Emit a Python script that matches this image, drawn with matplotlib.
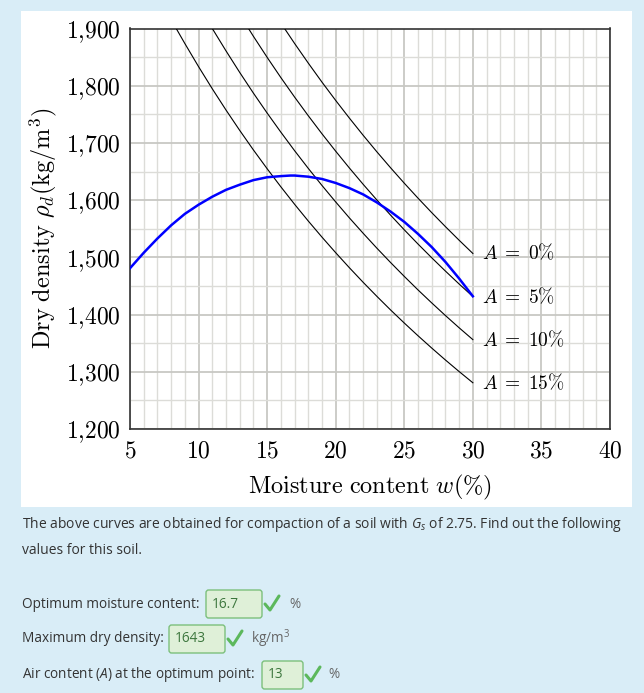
import matplotlib
matplotlib.use('Agg')
import matplotlib.pyplot as plt
from matplotlib.patches import Rectangle, FancyBboxPatch
from matplotlib.lines import Line2D
from matplotlib.ticker import MultipleLocator, FuncFormatter

# ---------------- data ----------------
w_curve = [5, 6, 7, 8, 9, 10, 11, 12, 13, 14, 15, 16, 16.7, 17, 18, 19, 20,
           21, 22, 23, 24, 25, 26, 27, 28, 29, 30]
rho_curve = [1481, 1508, 1533, 1556, 1576, 1592, 1606, 1618, 1627, 1635, 1640,
             1642, 1643, 1643, 1641, 1637, 1630, 1621, 1610, 1596, 1580, 1562,
             1541, 1518, 1492, 1463, 1432]

w_a0 = [16.27, 17, 18, 19, 20, 21, 22, 23, 24, 25, 26, 27, 28, 29, 30]
rho_a0 = [1900, 1873.9, 1839.5, 1806.2, 1774.2, 1743.3, 1713.4, 1684.5, 1656.6,
          1629.6, 1603.5, 1578.2, 1553.7, 1529.9, 1506.8]

w_a5 = [13.64, 14, 15, 16, 17, 18, 19, 20, 21, 22, 23, 24, 25, 26, 27, 28, 29, 30]
rho_a5 = [1900, 1886.3, 1849.6, 1814.2, 1780.2, 1747.5, 1715.9, 1685.5, 1656.1,
          1627.7, 1600.3, 1573.8, 1548.1, 1523.3, 1499.3, 1476.0, 1453.4, 1431.5]

w_a10 = [11.0, 12, 13, 14, 15, 16, 17, 18, 19, 20, 21, 22, 23, 24, 25, 26, 27,
         28, 29, 30]
rho_a10 = [1900, 1860.9, 1823.2, 1787.0, 1752.2, 1718.8, 1686.5, 1655.5, 1625.6,
           1596.8, 1568.9, 1542.1, 1516.1, 1491.0, 1466.7, 1443.1, 1420.4,
           1398.3, 1376.9, 1356.2]

w_a15 = [8.37, 9, 10, 11, 12, 13, 14, 15, 16, 17, 18, 19, 20, 21, 22, 23, 24,
         25, 26, 27, 28, 29, 30]
rho_a15 = [1900, 1873.7, 1833.3, 1794.6, 1757.5, 1721.9, 1687.7, 1654.9, 1623.3,
           1592.8, 1563.5, 1535.3, 1508.1, 1481.8, 1456.4, 1431.9, 1408.1,
           1385.2, 1363.0, 1341.5, 1320.6, 1300.4, 1280.8]

air_labels = ['0', '5', '10', '15']

question = "The above curves are obtained for compaction of a soil with $G_s$ of 2.75. Find out the following"
question2 = "values for this soil."
answers = ['16.7', '1643', '13']

# ---------------- figure ----------------
plt.rcParams['mathtext.fontset'] = 'cm'
plt.rcParams['mathtext.rm'] = 'Open Sans'
plt.rcParams['mathtext.it'] = 'Open Sans:italic'
plt.rcParams['axes.unicode_minus'] = False

W, H = 644, 693
fig = plt.figure(figsize=(W / 100, H / 100), dpi=100)
fig.patch.set_facecolor('#d9edf7')

def fx(x):
    return x / W

def fy(y):
    return 1 - y / H

fig.patches.append(Rectangle((fx(21), fy(507)), (632 - 21) / W, (507 - 11) / H,
                             transform=fig.transFigure, facecolor='white',
                             edgecolor='none', zorder=-5))

ax = fig.add_axes([fx(130), fy(429), 480 / W, (429 - 28.5) / H])
ax.set_zorder(1)
ax.set_xlim(5, 40)
ax.set_ylim(1200, 1900)
ax.xaxis.set_major_locator(MultipleLocator(5))
ax.xaxis.set_minor_locator(MultipleLocator(1))
ax.yaxis.set_major_locator(MultipleLocator(100))
ax.yaxis.set_minor_locator(MultipleLocator(50))
ax.grid(which='minor', color='#dcdcd8', lw=1.0)
ax.grid(which='major', color='#c8c8c4', lw=1.3)
ax.set_axisbelow(True)
ax.tick_params(which='both', length=0)
ax.tick_params(axis='x', pad=7, labelsize=17)
ax.tick_params(axis='y', pad=7, labelsize=17)
ax.xaxis.set_major_formatter(FuncFormatter(lambda v, p: r'$%d$' % int(round(v))))
ax.yaxis.set_major_formatter(FuncFormatter(
    lambda v, p: r'$%d{,}%03d$' % (int(round(v)) // 1000, int(round(v)) % 1000)))
for s in ax.spines.values():
    s.set_color('#333333')
    s.set_linewidth(1.2)

ax.set_xlabel(r'$\mathrm{Moisture\ content}\ w(\%)$', fontsize=17.5)
ax.set_ylabel(r'$\mathrm{Dry\ density}\ \rho_d(\mathrm{kg/m}^3)$', fontsize=17.5)
ax.xaxis.set_label_coords(0.5, -0.145)
ax.xaxis.label.set_va('center')
ax.yaxis.set_label_coords(-0.181, 0.5)
ax.yaxis.label.set_va('center')

lines = [(w_a0, rho_a0), (w_a5, rho_a5), (w_a10, rho_a10), (w_a15, rho_a15)]
for (wv, rv), lab in zip(lines, air_labels):
    ax.plot(wv, rv, color='black', lw=0.8, zorder=3)
    ax.text(wv[-1] + 0.7, rv[-1], r'$A\;=\;%s\%%$' % lab, fontsize=14,
            ha='left', va='center', zorder=4)

ax.plot(w_curve, rho_curve, color='#0000ff', lw=1.8, zorder=5)

# ---------------- question text ----------------
fp = dict(family='Open Sans', color='#333333', fontsize=9.8, math_fontfamily='custom')
fq = dict(fp, fontsize=10)
fig.text(fx(22), fy(525), question, ha='left', va='center', **fq)
fig.text(fx(22), fy(550), question2, ha='left', va='center', **fq)

rows = [
    ("Optimum moisture content:", 604, 206, 262, "%", 289),
    ("Maximum dry density:", 639, 169, 225, "kg/m$^3$", 251),
    ("Air content ($A$) at the optimum point:", 675, 262, 303, "%", 328),
]
for (lab, yc, bx0, bx1, unit, ux), ans in zip(rows, answers):
    fig.text(fx(22), fy(yc), lab, ha='left', va='center', **fp)
    box = FancyBboxPatch((fx(bx0), fy(yc + 14)), (bx1 - bx0) / W, 28 / H,
                         boxstyle='round,pad=0,rounding_size=0.004',
                         transform=fig.transFigure, facecolor='#dff0d8',
                         edgecolor='#7cc07c', lw=1.0, zorder=2)
    fig.patches.append(box)
    fig.text(fx(bx0 + 6), fy(yc), ans, ha='left', va='center',
             family='Open Sans', color='#3c763d', fontsize=9.8, zorder=3)
    fig.lines.append(Line2D([fx(bx1 + 3), fx(bx1 + 8), fx(bx1 + 17)],
                            [fy(yc), fy(yc + 6), fy(yc - 8)],
                            transform=fig.transFigure, color='#5cb85c',
                            lw=2.2, solid_capstyle='round',
                            solid_joinstyle='round'))
    fig.text(fx(ux), fy(yc), unit, ha='left', va='center',
             **dict(fp, color='#666666'))

fig.savefig('out.png', dpi=100, facecolor=fig.get_facecolor())
